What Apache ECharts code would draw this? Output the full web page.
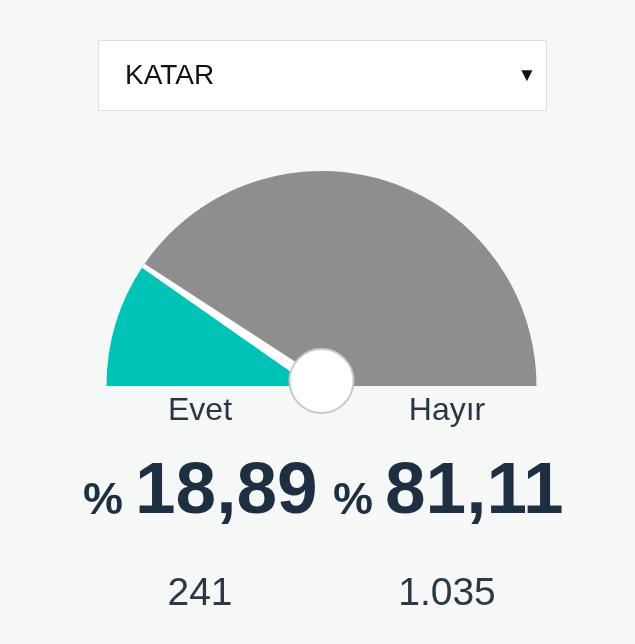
<!DOCTYPE html>
<html>
<head>
<meta charset="utf-8">
<script src="https://cdn.jsdelivr.net/npm/echarts@6/dist/echarts.min.js"></script>
<style>
html,body{margin:0;padding:0;background:#f6f7f7;}
#c{width:635px;height:644px;}
</style>
</head>
<body>
<div id="c"></div>
<script>
// Data
const country = 'KATAR';
const categories = ['Evet', 'Hayır'];
const counts = [241, 1035];
const percentLabels = ['18,89', '81,11'];
const countLabels = ['241', '1.035'];
const colors = ['#00c3b8', '#8e8e8e'];

const total = counts[0] + counts[1];
const evetPct = counts[0] / total * 100;

const font = '"Liberation Sans", Arial, sans-serif';
const cx = 321.5, cy = 386, R = 215;

const chart = echarts.init(document.getElementById('c'), null, {renderer: 'canvas'});

const pieData = categories.map((c, i) => ({name: c, value: counts[i], itemStyle: {color: colors[i]}}));
pieData.push({name: '_hidden', value: total, itemStyle: {color: 'transparent'}, emphasis: {disabled: true}});

const textCols = [200, 447];

const graphics = [
  {type: 'rect', shape: {x: 98.5, y: 40.5, width: 448, height: 70}, style: {fill: '#ffffff', stroke: '#dddddd', lineWidth: 1}},
  {type: 'text', x: 125, y: 76, style: {text: country, font: '28px ' + font, fill: '#111111', verticalAlign: 'middle', align: 'left'}},
  {type: 'text', x: 527, y: 76, style: {text: '▼', font: '19px ' + font, fill: '#111111', verticalAlign: 'middle', align: 'center'}}
];
categories.forEach((c, i) => {
  graphics.push({type: 'text', x: textCols[i], y: 411, style: {text: c, font: '32px ' + font, fill: '#2b3643', align: 'center', verticalAlign: 'middle'}});
  graphics.push({type: 'text', x: textCols[i], y: 594, style: {text: countLabels[i], font: '39px ' + font, fill: '#2c3846', align: 'center', verticalAlign: 'middle'}});
});
const pctX = [[83, 135], [333, 385]];
percentLabels.forEach((p, i) => {
  graphics.push({type: 'text', x: pctX[i][0], y: 502, style: {text: '%', font: 'bold 45px ' + font, fill: '#1f2f42', align: 'left', verticalAlign: 'middle'}});
  graphics.push({type: 'text', x: pctX[i][1], y: 493, style: {text: p, font: 'bold 73px ' + font, fill: '#1f2f42', align: 'left', verticalAlign: 'middle'}});
});

chart.setOption({
  backgroundColor: '#f6f7f7',
  animation: false,
  series: [
    {
      type: 'pie',
      z: 1,
      center: [cx, cy],
      radius: [0, R],
      startAngle: 180,
      clockwise: true,
      silent: true,
      label: {show: false},
      labelLine: {show: false},
      data: pieData
    },
    {
      type: 'gauge',
      z: 5,
      center: [cx, cy],
      radius: R,
      startAngle: 180,
      endAngle: 0,
      min: 0,
      max: 100,
      silent: true,
      axisLine: {show: false},
      splitLine: {show: false},
      axisTick: {show: false},
      axisLabel: {show: false},
      title: {show: false},
      detail: {show: false},
      pointer: {
        show: true,
        icon: 'path://M3,0 L7,0 L10,100 L0,100 Z',
        width: 12,
        length: '100%',
        itemStyle: {color: '#ffffff'}
      },
      anchor: {
        show: true,
        size: 64,
        offsetCenter: [0, -5],
        showAbove: true,
        itemStyle: {color: '#ffffff', borderColor: '#c9c9c9', borderWidth: 2}
      },
      data: [{value: evetPct}]
    }
  ],
  graphic: graphics
});
</script>
</body>
</html>
